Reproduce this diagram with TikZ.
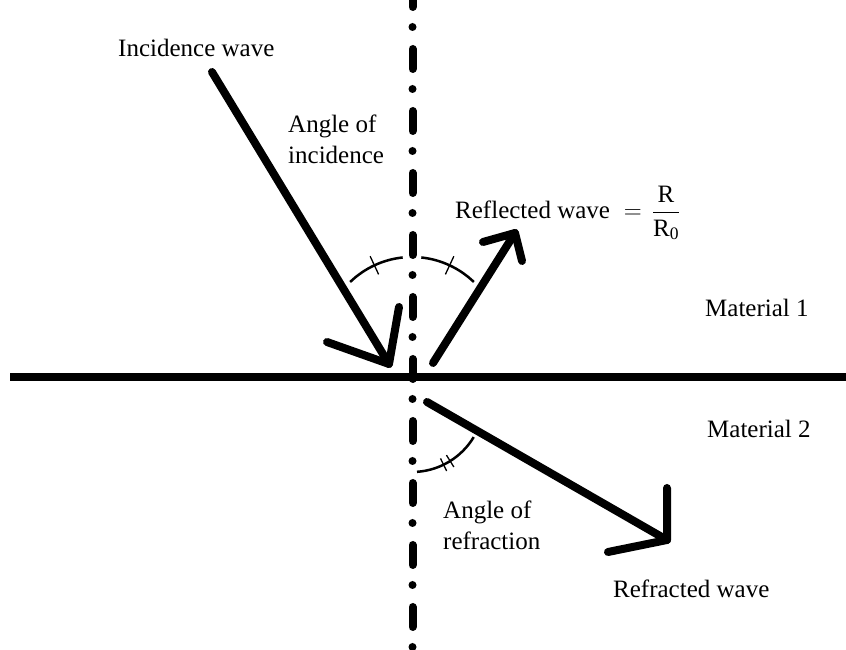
\documentclass[tikz,border=0pt]{standalone}
\usepackage{amsmath}
\usepackage{fontspec}
\setmainfont{Liberation Serif}
\usepackage{tikz}
\usetikzlibrary{positioning}

\begin{document}
\begin{tikzpicture}[
      x=1pt, y=1pt,
      every node/.style={font=\fontsize{25}{31}\selectfont, inner sep=0pt},
      txt/.style={align=left},
      normal/.style={line width=8pt, line cap=round,
                     dash pattern=on 20pt off 20pt on 0pt off 22pt, dash phase=13pt},
      surface/.style={line width=8pt},
      wave/.style={line width=8pt, line cap=round, line join=round},
      arcmark/.style={line width=2.5pt},
      hatch/.style={line width=1.3pt},
  ]
    \useasboundingbox (0,0) rectangle (846,650);

    \coordinate (normal-top) at (412.5,650);
    \coordinate (normal-bot) at (412.5,0);
    \coordinate (surf-w) at (10,272.5);
    \coordinate (surf-e) at (846,272.5);
    \draw[surface] (surf-w) -- (surf-e);
    \draw[normal] (normal-top) -- (normal-bot);

    \coordinate (inc-tail) at (212,578);
    \coordinate (inc-tip)  at (389,286);
    \coordinate (inc-bl)   at (327,308);
    \coordinate (inc-br)   at (399,343);
    \draw[wave] (inc-tail) -- (inc-tip);
    \draw[wave] (inc-bl) -- (inc-tip) -- (inc-br);

    \coordinate (refl-tail) at (433,287);
    \coordinate (refl-tip)  at (515,417);
    \coordinate (refl-bl)   at (483,408);
    \coordinate (refl-br)   at (522,389);
    \draw[wave] (refl-tail) -- (refl-tip);
    \draw[wave] (refl-bl) -- (refl-tip) -- (refl-br);

    \coordinate (refr-tail) at (427,248);
    \coordinate (refr-tip)  at (667,110);
    \coordinate (refr-bu)   at (667,162);
    \coordinate (refr-bl)   at (608,98);
    \draw[wave] (refr-tail) -- (refr-tip);
    \draw[wave] (refr-bu) -- (refr-tip) -- (refr-bl);

    \coordinate (top-c) at (412,304);
    \draw[arcmark] (top-c) ++(134:89) arc[start angle=134, end angle=96, radius=89];
    \draw[arcmark] (top-c) ++(84:89) arc[start angle=84, end angle=46, radius=89];
    \draw[hatch] (top-c) ++(115:79) -- ++(115:20);
    \draw[hatch] (top-c) ++(65:79) -- ++(65:20);

    \coordinate (bot-c) at (412,250);
    \draw[arcmark] (bot-c) ++(-86:72) arc[start angle=-86, end angle=-31, radius=72];
    \draw[hatch] (bot-c) ++(-64:65) -- ++(-64:14);
    \draw[hatch] (bot-c) ++(-58:65) -- ++(-58:14);

    \node[anchor=base west] (incwave) at (118,593) {Incidence wave};
    \node[txt, anchor=north west] (angleinc) at (288,535) {Angle of\\incidence};
    \node[anchor=base west] (reflwave) at (455,431)
      {Reflected wave\hspace{14pt}$=$\hspace{10pt}$\displaystyle\frac{\text{R}}{\text{R}_{\text{0}}}$};
    \node[anchor=base west] (mat1) at (705,333) {Material 1};
    \node[anchor=base west] (mat2) at (707,212) {Material 2};
    \node[txt, anchor=north west] (anglerefr) at (443,149) {Angle of\\refraction};
    \node[anchor=base west] (refrwave) at (613,52) {Refracted wave};
  \end{tikzpicture}
\end{document}
